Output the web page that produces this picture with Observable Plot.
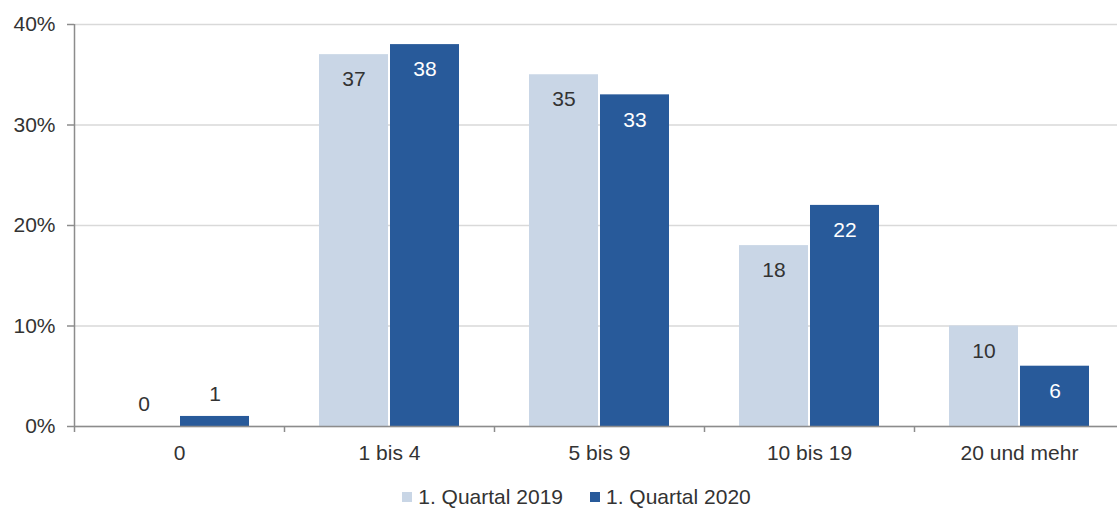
<!DOCTYPE html>
<html><head><meta charset="utf-8">
<script src="https://cdn.jsdelivr.net/npm/d3@7"></script>
<script src="https://cdn.jsdelivr.net/npm/@observablehq/plot@0.6"></script>
<style>
body{margin:0;background:#fff;font-family:"Liberation Sans",Arial,sans-serif;color:#333;overflow:hidden}
svg{display:block}
#legend{display:flex;justify-content:center;align-items:center;height:22px;margin-top:16px;padding-left:36px;font-size:21px;line-height:22px}
.item{display:flex;align-items:center}
.item + .item{margin-left:27px}
.sw{width:10px;height:10px;margin-right:6px}
</style></head><body><div id="chart"></div><div id="legend"></div>
<script>
const categories = ["0", "1 bis 4", "5 bis 9", "10 bis 19", "20 und mehr"];
const series = ["1. Quartal 2019", "1. Quartal 2020"];
const values2019 = [0, 37, 35, 18, 10];
const values2020 = [1, 38, 33, 22, 6];
const yTicks = [0, 10, 20, 30, 40];
const colors = ["#c9d6e6", "#285a9a"];

const rows2019 = categories.map((c, i) => ({cat: c, value: values2019[i]}));
const rows2020 = categories.map((c, i) => ({cat: c, value: values2020[i]}));
const axisGray = "#8c8c8c";
const inside = d => d.value >= 5;
const outside = d => d.value < 5;

const chart = Plot.plot({
  width: 1117, height: 470,
  marginLeft: 74, marginRight: 0, marginTop: 24, marginBottom: 44,
  style: {fontSize: "21px", fontFamily: "Liberation Sans, Arial, sans-serif", color: "#333", background: "#fff"},
  x: {domain: categories, range: [74, 1124], padding: 0, label: null, tickSize: 0, tickPadding: 19},
  y: {domain: [0, 40], ticks: 4, tickFormat: d => d + "%", label: null, tickSize: 7, tickPadding: 12},
  marks: [
    Plot.ruleY(yTicks, {stroke: "#d9d9d9", strokeWidth: 1.5}),
    Plot.barY(rows2019, {x: "cat", y: "value", fill: colors[0], insetLeft: 35, insetRight: 106}),
    Plot.barY(rows2020, {x: "cat", y: "value", fill: colors[1], insetLeft: 106, insetRight: 35}),
    Plot.ruleY([0], {stroke: axisGray, strokeWidth: 1.5}),
    Plot.ruleX([categories[0]], {x: d => d, dx: -105, stroke: axisGray, strokeWidth: 1.5, insetBottom: -6}),
    Plot.ruleX(categories.slice(1), {x: d => d, dx: -105, y1: 0, y2: 0, stroke: axisGray, strokeWidth: 1.5, insetBottom: -6}),
    Plot.text(rows2019, {filter: inside, x: "cat", y: "value", text: d => String(d.value), dx: -35.5, dy: 25, fill: "#333"}),
    Plot.text(rows2019, {filter: outside, x: "cat", y: "value", text: d => String(d.value), dx: -35.5, dy: -22, fill: "#333"}),
    Plot.text(rows2020, {filter: inside, x: "cat", y: "value", text: d => String(d.value), dx: 35.5, dy: 25, fill: "#fff"}),
    Plot.text(rows2020, {filter: outside, x: "cat", y: "value", text: d => String(d.value), dx: 35.5, dy: -22, fill: "#333"})
  ]
});
d3.select(chart).selectAll('g[aria-label^="y-axis"] line, g[aria-label^="y-axis"] path').attr("stroke", axisGray).attr("stroke-width", 1.5);
document.getElementById("chart").appendChild(chart);

const legend = d3.select("#legend");
series.forEach((s, i) => {
  const item = legend.append("div").attr("class", "item");
  item.append("div").attr("class", "sw").style("background", colors[i]);
  item.append("span").text(s);
});
</script>
</body></html>
